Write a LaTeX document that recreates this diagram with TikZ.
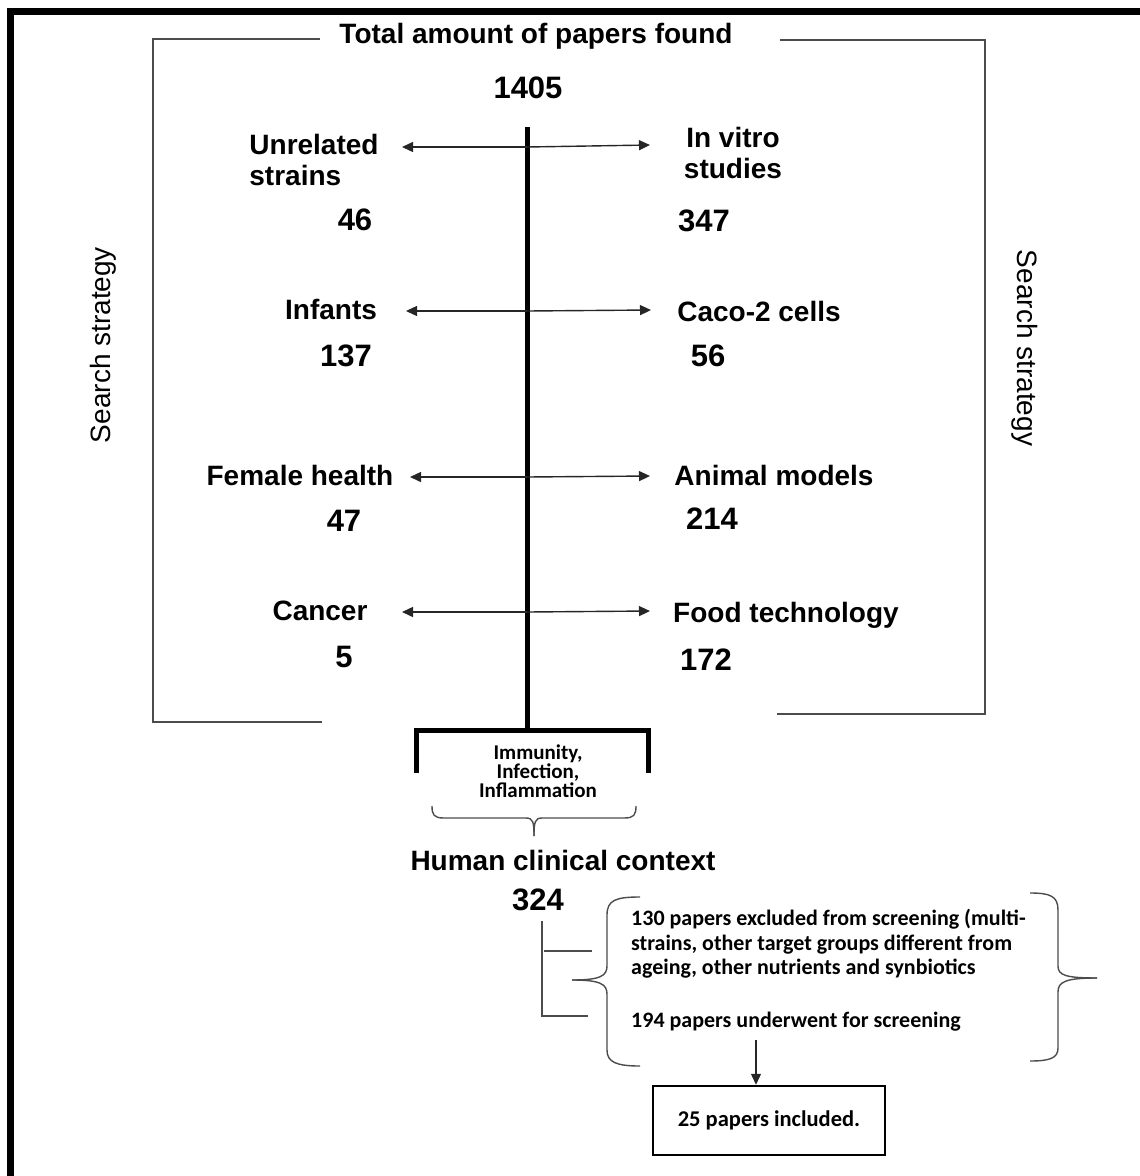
\documentclass[tikz,border=0pt]{standalone}
\usepackage{fontspec}
\setmainfont{Liberation Sans}
\newfontfamily\cfont{Carlito}
\usetikzlibrary{arrows.meta}
\begin{document}
\begin{tikzpicture}[x=1pt,y=-1pt,
  lbl/.style={font=\bfseries\fontsize{28}{31}\selectfont, inner sep=0pt},
  num/.style={font=\bfseries\fontsize{31}{31}\selectfont, inner sep=0pt},
  side/.style={font=\fontsize{28}{31}\selectfont, inner sep=0pt},
  small/.style={font=\cfont\bfseries\fontsize{22}{24.5}\selectfont, inner sep=0pt, align=left},
  thinline/.style={line width=1.4pt, draw=black!70},
  arr/.style={line width=1.4pt, draw=black!85, -{Triangle[length=11pt,width=10pt]}},
  thick/.style={line width=5pt, draw=black}
]
\useasboundingbox (0,0) rectangle (1140,1176);
% frame
\draw[line width=7pt] (1140,11.5) -- (10.5,11.5) -- (10.5,1176);

% search strategy brackets
\draw[thinline] (320,39) -- (153,39) -- (153,722) -- (322,722);
\draw[thinline] (780,40) -- (985,40) -- (985,714) -- (777,714);
\node[side, rotate=90] (ssl) at (103,345) {Search strategy};
\node[side, rotate=-90] (ssr) at (1025,348) {Search strategy};

% title
\node[lbl] (title) at (536,36) {Total amount of papers found};
\node[num] (n1405) at (528,88) {1405};

% spine
\coordinate (spT) at (527,127);
\coordinate (spB) at (527,730);
\draw[thick] (spT) -- (spB);

% rows
\coordinate (s1) at (527,147); \coordinate (l1) at (402,147); \coordinate (r1) at (650,145);
\coordinate (s2) at (527,311); \coordinate (l2) at (406,311); \coordinate (r2) at (651,310);
\coordinate (s3) at (527,477); \coordinate (l3) at (410,477); \coordinate (r3) at (650,476);
\coordinate (s4) at (527,612); \coordinate (l4) at (402,612); \coordinate (r4) at (650,611);
\foreach \i in {1,2,3,4}{
  \draw[arr] (s\i) -- (l\i);
  \draw[arr] (s\i) -- (r\i);
}

\node[lbl, align=left] (unrel) at (314,160) {Unrelated\\strains};
\node[num] (n46) at (355,220) {46};
\node[lbl, align=center] (invitro) at (733,153) {In vitro\\studies};
\node[num] (n347) at (704,221) {347};
\node[lbl] (infants) at (331,309) {Infants};
\node[num] (n137) at (346,356) {137};
\node[lbl] (caco) at (759,311) {Caco-2 cells};
\node[num] (n56) at (708,356) {56};
\node[lbl] (female) at (300,475) {Female health};
\node[num] (n47) at (344,521) {47};
\node[lbl] (animal) at (774,475) {Animal models};
\node[num] (n214) at (712,519) {214};
\node[lbl] (cancer) at (320,611) {Cancer};
\node[num] (n5) at (344,657) {5};
\node[lbl] (food) at (786,615) {Food technology};
\node[num] (n172) at (706,660) {172};

% thick bracket
\coordinate (bl) at (416,773);
\coordinate (br) at (648,773);
\draw[thick] (bl) -- (416,730) -- (648,730) -- (br);
\node[font=\cfont\bfseries\fontsize{21}{19}\selectfont, inner sep=0pt, align=center] (immu) at (538,771) {Immunity,\\Infection,\\Inflammation};

% thin brace under
\coordinate (bL) at (432,806);
\coordinate (bR) at (636,806);
\coordinate (bM) at (534,836);
\draw[thinline] (bL) .. controls (432,815) and (434,818) .. (444,818) -- (526,818) .. controls (533,818) and (534,822) .. (bM);
\draw[thinline] (bM) .. controls (534,822) and (535,818) .. (542,818) -- (624,818) .. controls (634,818) and (636,815) .. (bR);

\node[lbl] (human) at (563,860) {Human clinical context};
\node[num] (n324) at (538,900) {324};

% small bracket
\draw[thinline] (544,951) -- (592,951);
\draw[thinline] (542,921) -- (542,1016) -- (588,1016);

% big braces
\draw[thinline] (640,897) .. controls (616,897) and (607,900) .. (607,915) -- (607,966) .. controls (607,976) and (600,980) .. (572,980);
\draw[thinline] (572,980) .. controls (600,980) and (607,984) .. (607,994) -- (607,1050) .. controls (607,1062) and (616,1066) .. (640,1066);
\draw[thinline] (1030,893) .. controls (1050,893) and (1058,896) .. (1058,910) -- (1058,966) .. controls (1058,975) and (1065,978) .. (1097,978);
\draw[thinline] (1097,978) .. controls (1065,978) and (1058,982) .. (1058,992) -- (1058,1048) .. controls (1058,1058) and (1050,1061) .. (1030,1061);

\node[small, anchor=west] (excl) at (631,944) {130 papers excluded from screening (multi-\\strains, other target groups different from\\ageing, other nutrients and synbiotics};
\node[small, anchor=west] (under) at (631,1022) {194 papers underwent for screening};

% final box
\node[draw, line width=2.5pt, minimum width=232pt, minimum height=69pt, inner sep=0pt,
      font=\cfont\bfseries\fontsize{22.5}{24}\selectfont] (incl) at (769,1120.5) {25 papers included.};
\coordinate (scr) at (756,1040);
\draw[arr] (scr) -- (scr |- incl.north);
\end{tikzpicture}
\end{document}
